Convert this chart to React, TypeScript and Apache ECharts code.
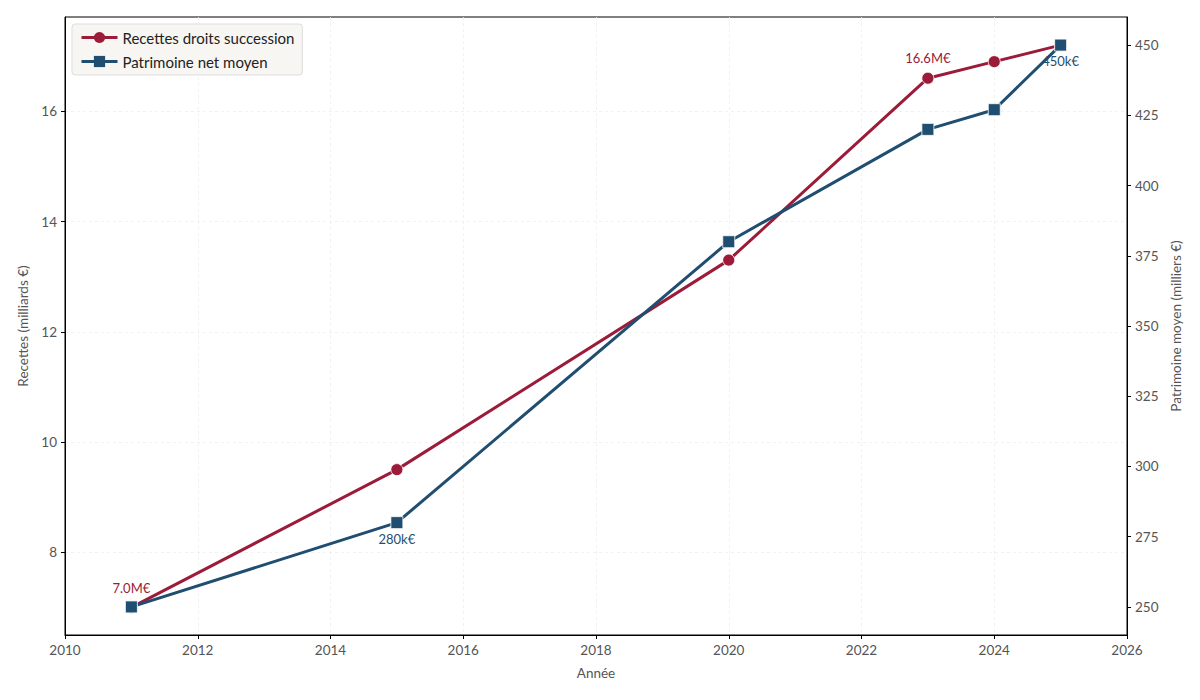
import React, { useEffect, useRef } from 'react';
import * as echarts from 'echarts';

const years = [2011, 2015, 2020, 2023, 2024, 2025];
const recettes = [7.0, 9.5, 13.3, 16.6, 16.9, 17.2];
const patrimoine = [250, 280, 380, 420, 427, 450];
const recettesLabelIdx = [0, 3];
const patrimoineLabelIdx = [1, 5];
const leftTicks = [8, 10, 12, 14, 16];
const rightTicks = [250, 275, 300, 325, 350, 375, 400, 425, 450];

const RED = '#9b1b38';
const BLUE = '#1f4e70';
const FONT = 'Lato, "Noto Sans", sans-serif';

const App: React.FC = () => {
  const chartRef = useRef<HTMLDivElement>(null);

  useEffect(() => {
    if (!chartRef.current) return;
    document.body.style.margin = '0';

    const chart = echarts.init(chartRef.current, undefined, { renderer: 'svg' });

    const axisLabel = { color: '#555', fontSize: 13.5, fontFamily: FONT };
    const axisName = { color: '#555', fontSize: 13.5, fontFamily: FONT };

    const options: echarts.EChartsOption = {
      animation: false,
      backgroundColor: '#fff',
      textStyle: { fontFamily: FONT },
      grid: {
        left: 65, right: 73, top: 17, bottom: 65,
        show: true, borderColor: '#000', borderWidth: 1
      },
      legend: {
        left: 72, top: 24, orient: 'vertical',
        padding: [6, 8], itemGap: 9, itemWidth: 36, itemHeight: 14,
        lineStyle: { width: 3 },
        itemStyle: { borderWidth: 0 },
        backgroundColor: '#f7f6f2', borderColor: '#dddddd', borderWidth: 1, borderRadius: 3,
        textStyle: { color: '#222', fontSize: 15, fontFamily: FONT }
      },
      xAxis: {
        type: 'value', min: 2010, max: 2026, interval: 2,
        name: 'Année', nameLocation: 'middle', nameGap: 31, nameTextStyle: axisName,
        axisLine: { lineStyle: { color: '#000' } },
        axisTick: { length: 4, lineStyle: { color: '#000' } },
        axisLabel: { ...axisLabel, margin: 8, formatter: (v: number) => String(v) },
        splitLine: { show: true, lineStyle: { color: '#eeeeee', type: [3, 3], width: 0.8 } }
      },
      yAxis: [
        {
          type: 'value', min: 6.5, max: 17.71, position: 'left',
          name: 'Recettes (milliards €)', nameLocation: 'middle', nameGap: 35, nameTextStyle: axisName,
          axisLine: { show: true, lineStyle: { color: '#000' } },
          axisTick: { show: true, length: 4, customValues: leftTicks, lineStyle: { color: '#000' } },
          axisLabel: { ...axisLabel, margin: 8, customValues: leftTicks },
          splitLine: { show: true, lineStyle: { color: '#eeeeee', type: [3, 3], width: 0.8 } }
        },
        {
          type: 'value', min: 240, max: 460, position: 'right',
          name: 'Patrimoine moyen (milliers €)', nameLocation: 'middle', nameGap: 42, nameTextStyle: axisName,
          axisLine: { show: true, lineStyle: { color: '#000' } },
          axisTick: { show: true, length: 4, customValues: rightTicks, lineStyle: { color: '#000' } },
          axisLabel: { ...axisLabel, margin: 8, customValues: rightTicks },
          splitLine: { show: false }
        }
      ],
      series: [
        {
          name: 'Recettes droits succession',
          type: 'line', yAxisIndex: 0,
          symbol: 'circle', symbolSize: 12,
          lineStyle: { color: RED, width: 3 },
          itemStyle: { color: RED, borderColor: '#fff', borderWidth: 0.8 },
          data: years.map((y, i) => ({
            value: [y, recettes[i]],
            label: {
              show: recettesLabelIdx.includes(i), position: 'top', distance: 7,
              color: RED, fontSize: 13, fontFamily: FONT,
              formatter: () => `${recettes[i].toFixed(1)}M€`
            }
          }))
        },
        {
          name: 'Patrimoine net moyen',
          type: 'line', yAxisIndex: 1,
          symbol: 'rect', symbolSize: 12,
          lineStyle: { color: BLUE, width: 3 },
          itemStyle: { color: BLUE, borderColor: '#fff', borderWidth: 0.8 },
          data: years.map((y, i) => ({
            value: [y, patrimoine[i]],
            label: {
              show: patrimoineLabelIdx.includes(i), position: 'bottom', distance: 3,
              color: BLUE, fontSize: 13, fontFamily: FONT,
              formatter: () => `${patrimoine[i]}k€`
            }
          }))
        }
      ]
    };

    chart.setOption(options);

    return () => {
      chart.dispose();
    };
  }, []);

  return <div ref={chartRef} style={{ width: 1200, height: 700 }} />;
};

export default App;
